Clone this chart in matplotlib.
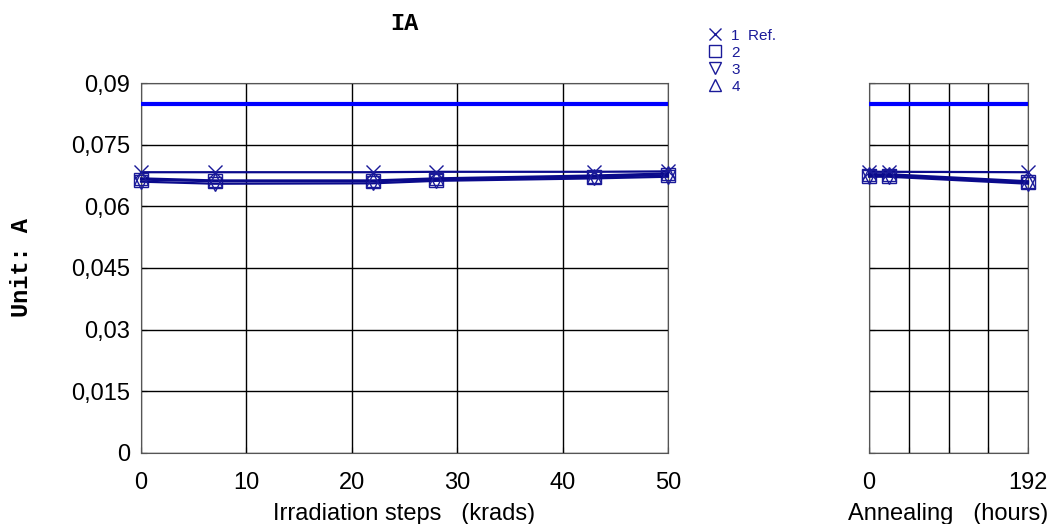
import matplotlib.pyplot as plt
from matplotlib.lines import Line2D
from matplotlib.ticker import FuncFormatter

# irradiation steps (krads) and annealing times (hours)
irr_steps = [0, 7, 22, 28, 43, 50]
ann_steps = [0, 24, 192]

labels = ["1  Ref.", "2", "3", "4"]
markers = ["x", "s", "v", "^"]

irr_values = [
    [0.0683, 0.0683, 0.0683, 0.0684, 0.0684, 0.0685],
    [0.0665, 0.0661, 0.0661, 0.0665, 0.0672, 0.0676],
    [0.0660, 0.0655, 0.0656, 0.0662, 0.0668, 0.0672],
    [0.0668, 0.0663, 0.0663, 0.0668, 0.0675, 0.0680],
]
ann_values = [
    [0.0684, 0.0684, 0.0683],
    [0.0675, 0.0675, 0.0658],
    [0.0672, 0.0672, 0.0655],
    [0.0678, 0.0678, 0.0661],
]
limit = 0.085

yticks = [0, 0.015, 0.03, 0.045, 0.06, 0.075, 0.09]

line_col = "#0a0a8c"
mark_col = "#1a1a99"
fig = plt.figure(figsize=(10.62, 5.24), dpi=100)
plt.rcParams['font.family'] = ['Liberation Sans', 'DejaVu Sans']

ax1 = fig.add_axes([0.1328, 0.1355, 0.4962, 0.7061])
ax2 = fig.add_axes([0.8183, 0.1355, 0.1497, 0.7061])

comma = FuncFormatter(lambda v, p: ("%g" % v).replace(".", ","))

for ax, xs, vals, xlim in [(ax1, irr_steps, irr_values, (0, 50)),
                            (ax2, ann_steps, ann_values, (0, 192))]:
    ax.axhline(limit, color="#0000ff", lw=3, zorder=3)
    for v, m in zip(vals, markers):
        ax.plot(xs, v, color=line_col, lw=1.6, marker=m, markersize=10,
                markerfacecolor="none", markeredgecolor=mark_col, mew=1, zorder=4,
                clip_on=False)
    ax.set_xlim(*xlim)
    ax.set_ylim(0, 0.09)
    ax.set_yticks(yticks)
    ax.grid(True, color="black", lw=1)
    for s in ax.spines.values():
        s.set_color("#555555")
    ax.tick_params(direction="in", length=4, labelsize=17, pad=14)
    ax.tick_params(axis="y", pad=8)

ax1.set_xticks([0, 10, 20, 30, 40, 50])
ax1.yaxis.set_major_formatter(comma)
ax1.set_xlabel("Irradiation steps   (krads)", fontsize=17, labelpad=6)
ax1.set_ylabel("Unit: A", fontsize=17, fontfamily="Liberation Mono",
               fontweight="bold", labelpad=27)
ax1.set_title("IA", fontsize=17, fontfamily="Liberation Mono",
              fontweight="bold", x=0.5, pad=38)

ax2.set_xticks([0, 48, 96, 144, 192])
ax2.set_xticklabels(["0", "", "", "", "192"])
ax2.set_yticklabels([])
ax2.set_xlabel("Annealing   (hours)", fontsize=17, labelpad=6)

handles = [Line2D([], [], ls="none", marker=m, markersize=8, markerfacecolor="none",
                  markeredgecolor=mark_col, mew=1) for m in markers]
fig.legend(handles, labels, loc="upper left", bbox_to_anchor=(0.66, 0.96),
           frameon=False, fontsize=11, labelcolor=mark_col, handlelength=0.8,
           handletextpad=0.7, labelspacing=0.2, borderpad=0)

fig.savefig("out.png", dpi=100)
